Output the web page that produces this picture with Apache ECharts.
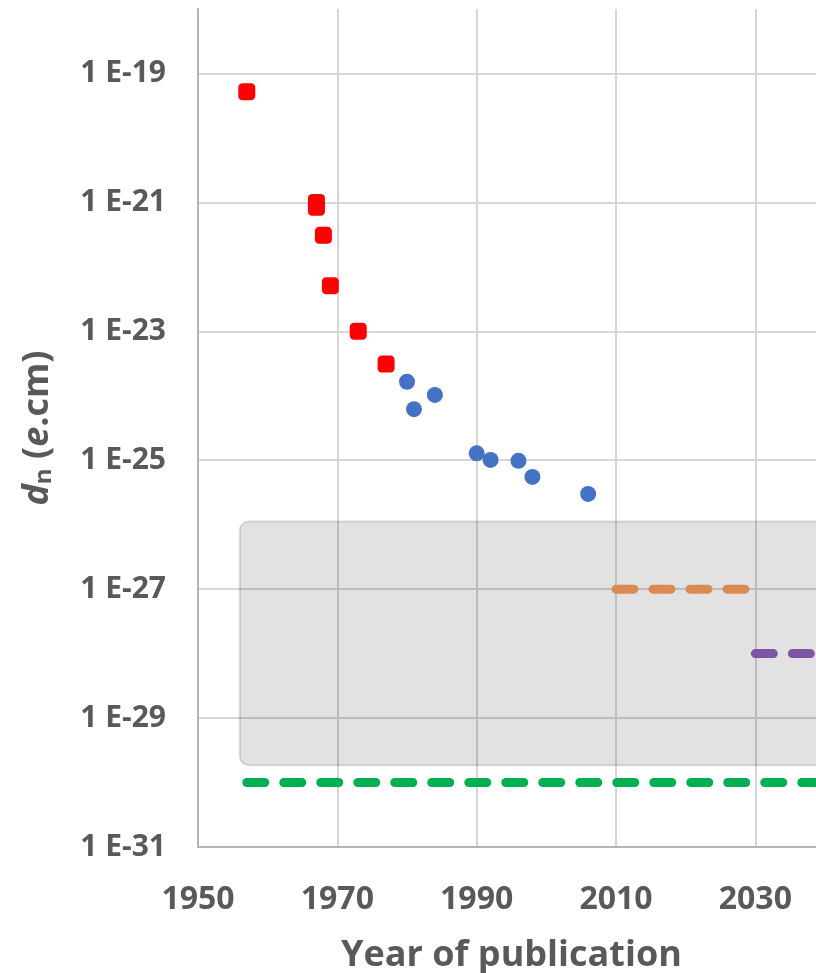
<!DOCTYPE html>
<html>
<head>
<meta charset="utf-8">
<script src="https://cdn.jsdelivr.net/npm/echarts@6/dist/echarts.min.js"></script>
<style>
  html, body { margin: 0; padding: 0; background: #fff; }
  #cc { width: 816px; height: 973px; }
</style>
</head>
<body>
<div id="cc"></div>
<script>
// upper limits on the neutron EDM (e.cm), by year of publication
var redYears = [1957, 1967, 1967, 1968, 1969, 1973, 1977];
var redLimits = [5.2e-20, 1e-21, 8.4e-22, 3.1e-22, 5.1e-23, 1e-23, 3.1e-24];

var blueYears = [1980, 1981, 1984, 1990, 1992, 1996, 1998, 2006];
var blueLimits = [1.65e-24, 6.2e-25, 1.03e-24, 1.28e-25, 1.01e-25, 9.8e-26, 5.5e-26, 3e-26];

// projected sensitivities (dashed levels): [startYear, endYear, level]
var orangeLevel = [2010, 2030, 1e-27];
var purpleLevel = [2030, 2040, 1e-28];
var greenLevel = [1957, 2040, 1e-30];

// shaded box: [x0, y0, x1, y1]
var boxRange = [1956, 1.12e-26, 2042, 1.86e-30];

var yearTicks = [1950, 1970, 1990, 2010, 2030];
var EXP_MIN = -31;   // lowest decade on the axis (1 E-31)
var EXP_MAX = -18;   // top of the axis

// the y axis counts decades above 1 E-31
function dec(v) { return Math.log10(v) - EXP_MIN; }

function pairs(xs, ys) {
    return xs.map(function (x, i) { return [x, dec(ys[i])]; });
}
function level(l) {
    return [[l[0], dec(l[2])], [l[1], dec(l[2])]];
}

var textColor = '#595959';
var font = '"Open Sans", "DejaVu Sans", sans-serif';

var chart = echarts.init(document.getElementById('cc'));

var dashStyle = function (color) {
    return {
        color: color,
        width: 9,
        type: [18, 19],
        cap: 'round'
    };
};

var option = {
    animation: false,
    backgroundColor: '#fff',
    grid: {
        left: 198,
        top: 9,
        width: 627,
        height: 838,
        outerBoundsMode: 'none',
        containLabel: false
    },
    xAxis: {
        type: 'value',
        min: yearTicks[0],
        max: 2040,
        interval: 20,
        name: 'Year of publication',
        nameLocation: 'middle',
        nameGap: 91,
        nameTextStyle: {
            fontFamily: font,
            fontSize: 36,
            fontWeight: 'bold',
            color: textColor
        },
        axisLine: { lineStyle: { color: '#b4b4b4', width: 2 } },
        axisTick: { show: false },
        axisLabel: {
            margin: 37,
            showMaxLabel: false,
            fontFamily: font,
            fontSize: 32,
            fontWeight: 'bold',
            color: textColor,
            formatter: function (v) { return String(v); }
        },
        splitLine: {
            showMaxLine: false,
            lineStyle: { color: '#d6d6d6', width: 2 }
        }
    },
    yAxis: {
        type: 'value',
        min: 0,
        max: EXP_MAX - EXP_MIN,
        interval: 2,
        name: '{d|d}{n|n} ({e|e}.cm)',
        nameLocation: 'middle',
        nameGap: 142,
        nameTextStyle: {
            fontFamily: font,
            fontSize: 36,
            fontWeight: 'bold',
            color: textColor,
            rich: {
                d: { fontFamily: font, fontSize: 36, fontWeight: 'bold', fontStyle: 'italic', color: textColor },
                n: { fontFamily: font, fontSize: 24, fontWeight: 'bold', color: textColor, verticalAlign: 'bottom', lineHeight: 18 },
                e: { fontFamily: font, fontSize: 36, fontWeight: 'bold', fontStyle: 'italic', color: textColor }
            }
        },
        axisLine: { show: true, lineStyle: { color: '#b4b4b4', width: 2 } },
        axisTick: { show: false },
        axisLabel: {
            margin: 32,
            showMaxLabel: false,
            fontFamily: font,
            fontSize: 30,
            fontWeight: 'bold',
            color: textColor,
            formatter: function (v) {
                return '1 E' + (v + EXP_MIN);
            }
        },
        splitLine: {
            showMaxLine: false,
            lineStyle: { color: '#d6d6d6', width: 2 }
        }
    },
    series: [
        {
            name: 'box',
            type: 'custom',
            z: 1,
            silent: true,
            data: [[boxRange[0], dec(boxRange[1]), boxRange[2], dec(boxRange[3])]],
            renderItem: function (params, api) {
                var p0 = api.coord([api.value(0), api.value(1)]);
                var p1 = api.coord([api.value(2), api.value(3)]);
                return {
                    type: 'rect',
                    shape: {
                        x: p0[0],
                        y: p0[1],
                        width: p1[0] - p0[0],
                        height: p1[1] - p0[1],
                        r: 9
                    },
                    style: {
                        fill: 'rgba(0,0,0,0.115)',
                        stroke: 'rgba(0,0,0,0.13)',
                        lineWidth: 2
                    }
                };
            }
        },
        {
            name: 'green',
            type: 'line',
            z: 2,
            symbol: 'none',
            data: level(greenLevel),
            lineStyle: dashStyle('#00b050')
        },
        {
            name: 'orange',
            type: 'line',
            z: 2,
            symbol: 'none',
            data: level(orangeLevel),
            lineStyle: dashStyle('#da8a52')
        },
        {
            name: 'purple',
            type: 'line',
            z: 2,
            symbol: 'none',
            data: level(purpleLevel),
            lineStyle: dashStyle('#7e55a4')
        },
        {
            name: 'early',
            type: 'scatter',
            z: 3,
            symbol: 'roundRect',
            symbolSize: 17,
            data: pairs(redYears, redLimits),
            itemStyle: { color: '#ff0000', opacity: 1 }
        },
        {
            name: 'later',
            type: 'scatter',
            z: 3,
            symbol: 'circle',
            symbolSize: 16,
            data: pairs(blueYears, blueLimits),
            itemStyle: { color: '#4472c4', opacity: 1 }
        }
    ]
};

chart.setOption(option);
</script>
</body>
</html>
